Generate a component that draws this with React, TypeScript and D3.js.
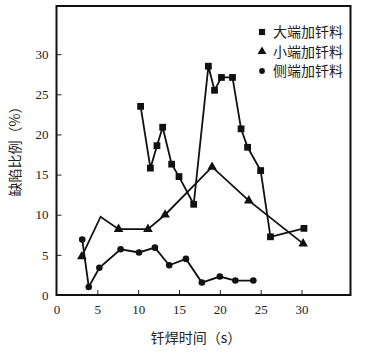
import * as d3 from 'd3';
import { useEffect, useRef } from 'react';

// 大端加钎料
const bigX = [10.3, 11.5, 12.3, 13.0, 14.1, 15.0, 16.8, 18.6, 19.35, 20.2, 21.55, 22.6, 23.4, 25.0, 26.2, 30.3];
const bigY = [23.5, 15.8, 18.6, 20.9, 16.3, 14.75, 11.3, 28.5, 25.5, 27.1, 27.1, 20.7, 18.4, 15.5, 7.25, 8.3];

// 小端加钎料 (the kink at ~5.4 has no marker)
const smallX = [3.1, 5.4, 7.6, 11.2, 13.3, 19.05, 23.55, 30.2];
const smallY = [4.8, 9.75, 8.2, 8.2, 10.0, 15.95, 11.75, 6.4];
const smallMarked = [true, false, true, true, true, true, true, true];

// 侧端加钎料
const sideX = [3.15, 3.95, 5.25, 7.85, 10.1, 12.05, 13.8, 15.85, 17.8, 20.0, 21.9, 24.1];
const sideY = [6.9, 1.0, 3.4, 5.7, 5.3, 5.9, 3.7, 4.5, 1.55, 2.3, 1.8, 1.8];

const xTicks = [0, 5, 10, 15, 20, 25, 30];
const yTicks = [0, 5, 10, 15, 20, 25, 30];
const legendLabels = ['大端加钎料', '小端加钎料', '侧端加钎料'];
const xTitle = '钎焊时间（s）';
const yTitle = '缺陷比例（%）';

const W = 365;
const H = 352;
const serif = '"Liberation Serif", "DejaVu Serif", serif';
const cjk = '"Noto Sans CJK SC", sans-serif';

export default function App() {
  const ref = useRef<SVGSVGElement>(null);

  useEffect(() => {
    const svg = d3.select(ref.current);
    svg.selectAll('*').remove();
    svg.append('rect').attr('width', W).attr('height', H).attr('fill', '#fff');

    const left = 56.5, right = 350.5, top = 6, bottom = 295;
    const x = d3.scaleLinear().domain([0, 36]).range([left, right]);
    const y = d3.scaleLinear().domain([0, 36]).range([bottom, top]);

    // frame
    svg.append('rect')
      .attr('x', left).attr('y', top)
      .attr('width', right - left).attr('height', bottom - top)
      .attr('fill', 'none').attr('stroke', '#111').attr('stroke-width', 2);

    // bottom axis, ticks inward
    const xa = svg.append('g').attr('transform', `translate(0,${bottom})`)
      .call(d3.axisBottom(x).tickValues(xTicks).tickSizeInner(-5).tickSizeOuter(0).tickPadding(10));
    xa.select('.domain').remove();
    xa.selectAll('line').attr('stroke', '#222');
    xa.selectAll('text').attr('font-family', serif).attr('font-size', 13).attr('fill', '#222');
    xa.selectAll('.tick').filter((d: any) => d === 0).select('line').remove();

    const ya = svg.append('g').attr('transform', `translate(${left},0)`)
      .call(d3.axisLeft(y).tickValues(yTicks).tickSizeInner(-5).tickSizeOuter(0).tickPadding(8));
    ya.select('.domain').remove();
    ya.selectAll('line').attr('stroke', '#222');
    ya.selectAll('text').attr('font-family', serif).attr('font-size', 13).attr('fill', '#222');
    ya.selectAll('.tick').filter((d: any) => d === 0).select('line').remove();

    const line = d3.line<[number, number]>().x((d) => x(d[0])).y((d) => y(d[1]));
    const zip = (a: number[], b: number[]) => a.map((v, i) => [v, b[i]] as [number, number]);

    const g = svg.append('g');
    [zip(bigX, bigY), zip(smallX, smallY), zip(sideX, sideY)].forEach((pts) => {
      g.append('path').attr('d', line(pts)).attr('fill', 'none')
        .attr('stroke', '#111').attr('stroke-width', 1.8).attr('stroke-linejoin', 'miter');
    });

    const square = d3.symbol().type(d3.symbolSquare).size(46);
    const tri = d3.symbol().type(d3.symbolTriangle).size(40);
    const circ = d3.symbol().type(d3.symbolCircle).size(34);

    g.selectAll('.sq').data(zip(bigX, bigY)).enter().append('path')
      .attr('d', square()).attr('transform', (d) => `translate(${x(d[0])},${y(d[1])})`).attr('fill', '#111');
    g.selectAll('.tr').data(zip(smallX, smallY).filter((_, i) => smallMarked[i])).enter().append('path')
      .attr('d', tri()).attr('transform', (d) => `translate(${x(d[0])},${y(d[1])})`).attr('fill', '#111');
    g.selectAll('.ci').data(zip(sideX, sideY)).enter().append('path')
      .attr('d', circ()).attr('transform', (d) => `translate(${x(d[0])},${y(d[1])})`).attr('fill', '#111');

    // legend
    const syms = [
      d3.symbol().type(d3.symbolSquare).size(38),
      d3.symbol().type(d3.symbolTriangle).size(34),
      d3.symbol().type(d3.symbolCircle).size(26),
    ];
    legendLabels.forEach((lab, i) => {
      const ly = 32 + i * 19.5;
      svg.append('path').attr('d', syms[i]()).attr('transform', `translate(262,${ly})`).attr('fill', '#111');
      svg.append('text').attr('x', 273).attr('y', ly + 5).attr('font-family', cjk)
        .attr('font-size', 14).attr('fill', '#222').text(lab);
    });

    // axis titles
    svg.append('text').attr('x', 196).attr('y', 343).attr('text-anchor', 'middle')
      .attr('font-family', cjk).attr('font-size', 14).attr('fill', '#222').text(xTitle);
    svg.append('text').attr('transform', 'translate(20,148) rotate(-90)').attr('text-anchor', 'middle')
      .attr('font-family', cjk).attr('font-size', 14).attr('fill', '#222').text(yTitle);
  }, []);

  return (
    <svg ref={ref} width={W} height={H} style={{ position: 'absolute', left: 0, top: 0 }} />
  );
}
